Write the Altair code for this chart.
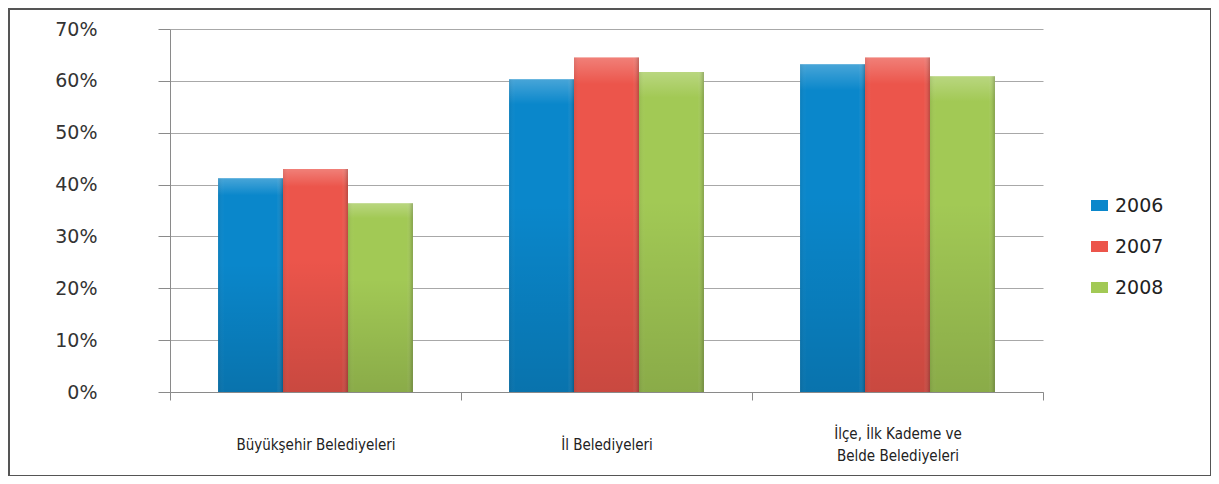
import altair as alt
import pandas as pd

categories = ["Büyükşehir Belediyeleri", "İl Belediyeleri", "İlçe, İlk Kademe ve Belde Belediyeleri"]
years = ["2006", "2007", "2008"]
values_2006 = [0.412, 0.603, 0.632]
values_2007 = [0.430, 0.645, 0.645]
values_2008 = [0.364, 0.617, 0.609]
colors = ["#0a87cb", "#ec554b", "#a2c955"]

rows = []
for i, c in enumerate(categories):
    for y, vals in zip(years, [values_2006, values_2007, values_2008]):
        rows.append({"category": c, "year": y, "value": vals[i]})
df = pd.DataFrame(rows)

W, H = 873, 363

long_cat = categories[2]
label_expr = ("datum.value == '" + long_cat + "' ? "
              "['İlçe, İlk Kademe ve', 'Belde Belediyeleri'] : datum.label")
pad_expr = "datum.value == '" + long_cat + "' ? 33 : 44"

x_enc = alt.X("category:N", sort=categories, title=None,
              scale=alt.Scale(paddingInner=0, paddingOuter=0),
              axis=alt.Axis(labelAngle=0, tickBand="extent", tickSize=8, tickColor="#8a8a8a",
                            domainColor="#8a8a8a",
                            labelFont="'Liberation Sans Narrow', 'DejaVu Sans Condensed', 'Liberation Sans'",
                            labelFontSize=15, labelColor="#222222",
                            labelPadding={"expr": pad_expr},
                            labelBaseline="middle", labelLineHeight=22,
                            labelExpr=label_expr))
xo_enc = alt.XOffset("year:N", sort=years, scale=alt.Scale(paddingInner=0, paddingOuter=0.74))
y_enc = alt.Y("value:Q", title=None,
              scale=alt.Scale(domain=[0, 0.7], nice=False),
              axis=alt.Axis(format=".0%", values=[0, .1, .2, .3, .4, .5, .6, .7],
                            tickSize=12, tickColor="#8a8a8a", domainColor="#8a8a8a",
                            gridColor="#a8a8a8", labelFont="DejaVu Sans", labelFontSize=19,
                            labelColor="#333333", labelPadding=61))

bars = alt.Chart(df).mark_bar(stroke=None).encode(
    x=x_enc, xOffset=xo_enc, y=y_enc,
    color=alt.Color("year:N", sort=years, title=None,
                    scale=alt.Scale(domain=years, range=colors),
                    legend=alt.Legend(orient="none", legendX=920, legendY=167,
                                      symbolType="M-1,-0.65H1V0.65H-1Z", symbolSize=289,
                                      symbolStrokeWidth=0,
                                      labelFont="DejaVu Sans", labelFontSize=19, labelColor="#222222",
                                      rowPadding=21, labelOffset=6))
)

shade_v = alt.Chart(df).mark_bar(color=alt.Gradient(
    gradient="linear", x1=0, x2=0, y1=0, y2=1,
    stops=[alt.GradientStop(color="rgba(255,255,255,0.25)", offset=0),
           alt.GradientStop(color="rgba(255,255,255,0.0)", offset=0.08),
           alt.GradientStop(color="rgba(0,0,0,0.0)", offset=0.4),
           alt.GradientStop(color="rgba(0,0,0,0.15)", offset=1)])).encode(
    x=x_enc, xOffset=xo_enc, y=y_enc)

shade_h = alt.Chart(df).mark_bar(color=alt.Gradient(
    gradient="linear", x1=0, x2=1, y1=0, y2=0,
    stops=[alt.GradientStop(color="rgba(0,0,0,0.08)", offset=0),
           alt.GradientStop(color="rgba(255,255,255,0.0)", offset=0.1),
           alt.GradientStop(color="rgba(255,255,255,0.0)", offset=0.9),
           alt.GradientStop(color="rgba(0,0,0,0.22)", offset=1)])).encode(
    x=x_enc, xOffset=xo_enc, y=y_enc)

border = alt.Chart(pd.DataFrame({"k": [0]})).mark_rect(
    fill=None, stroke="#555555", strokeWidth=2, clip=False).encode(
    x=alt.value(-161), x2=alt.value(1041), y=alt.value(-20), y2=alt.value(447))

chart = alt.layer(bars, shade_v, shade_h, border).properties(
    width=W, height=H,
    padding={"left": 162, "top": 21, "right": 168, "bottom": 84},
    autosize=alt.AutoSizeParams(type="none"),
).configure_view(stroke=None).configure_axis(gridWidth=1)

chart.save("out.html", embed_options={"renderer": "svg", "actions": False})
